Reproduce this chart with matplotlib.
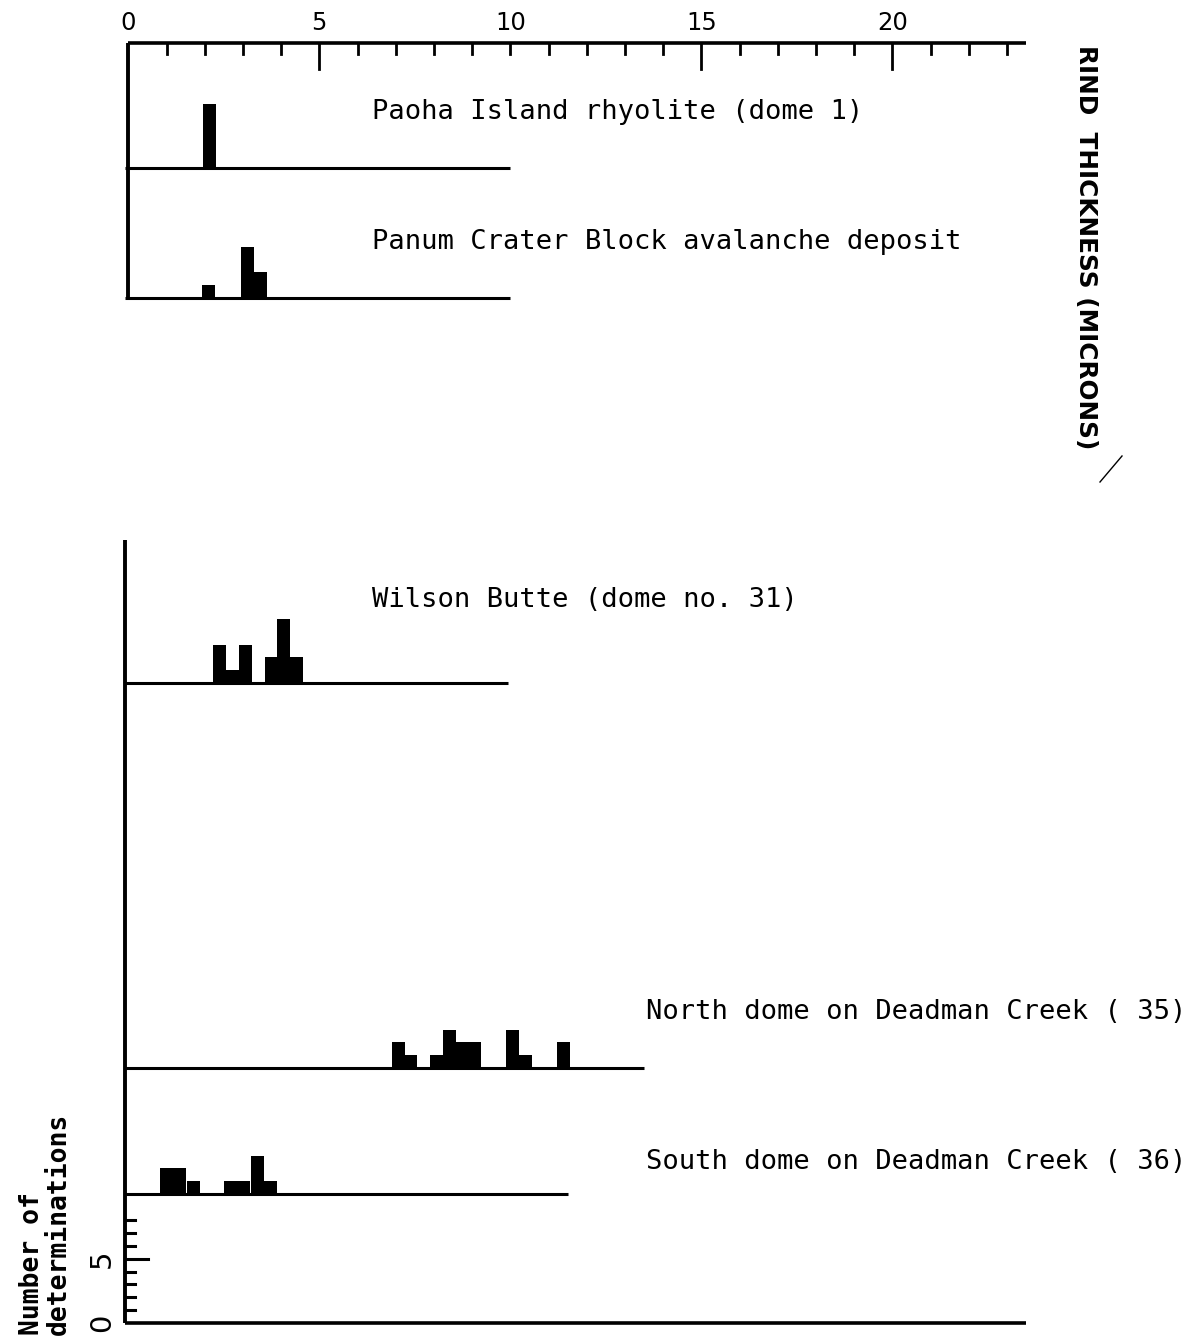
import matplotlib
matplotlib.use("Agg")
import matplotlib.pyplot as plt

# rind thickness (microns): left edge of each bin, and number of determinations
paoha_edges = [1.95]
paoha_counts = [5]
panum_edges = [1.93, 2.95, 3.29]
panum_counts = [1, 4, 2]
wilson_edges = [2.23, 2.57, 2.90, 3.57, 3.90, 4.23]
wilson_counts = [3, 1, 3, 2, 5, 2]
north_edges = [6.90, 7.23, 7.90, 8.23, 8.57, 8.90, 9.90, 10.23, 11.23]
north_counts = [2, 1, 1, 3, 2, 2, 3, 1, 2]
south_edges = [0.83, 1.18, 1.53, 2.50, 2.85, 3.20, 3.55]
south_counts = [2, 2, 1, 1, 1, 3, 1]
bin_width = 0.34

sample_names = [
    "Paoha Island rhyolite (dome 1)",
    "Panum Crater Block avalanche deposit",
    "Wilson Butte (dome no. 31)",
    "North dome on Deadman Creek ( 35)",
    "South dome on Deadman Creek ( 36)",
]
x_tick_labels = ["0", "5", "10", "15", "20"]
x_tick_values = [0, 5, 10, 15, 20]
count_tick_labels = ["0", "5"]

# layout (pixels of the 1197x1337 page)
W, H = 1197, 1337
X0 = 128.3      # pixel column of 0 microns
PX = 38.2       # pixels per micron
PY = 12.8       # pixels per determination


def yb(py):
    return (H - py) / PY


def xd(px):
    return (px - X0) / PX


fig = plt.figure(figsize=(W / 100, H / 100), dpi=100)
ax = fig.add_axes([0, 0, 1, 1])
ax.set_xlim(xd(0), xd(W))
ax.set_ylim(0, H / PY)
ax.axis("off")

mono = "DejaVu Sans Mono"
lw = 2.2

# panels: data, baseline row, baseline length (microns), label position
panels = [
    (paoha_edges, paoha_counts, 168, 10.0, 372, 112),
    (panum_edges, panum_counts, 298, 10.0, 372, 242),
    (wilson_edges, wilson_counts, 683, 9.95, 372, 600),
    (north_edges, north_counts, 1068, 13.5, 646, 1012),
    (south_edges, south_counts, 1194, 11.5, 646, 1162),
]
for (edges, counts, base, end, lx, ly), name in zip(panels, sample_names):
    ax.bar(edges, counts, width=bin_width, bottom=yb(base), align="edge",
           color="black", linewidth=0)
    ax.plot([xd(125), end], [yb(base)] * 2, color="black", lw=lw,
            solid_capstyle="butt")
    ax.text(xd(lx), yb(ly), name, family=mono, fontsize=19.5,
            ha="left", va="center")

# top thickness scale
ytop = yb(42.7)
ax.plot([0, 23.5], [ytop, ytop], color="black", lw=2.6, solid_capstyle="butt")
for i in range(1, 24):
    length = 26 if i in (5, 15, 20) else 11
    ax.plot([i, i], [ytop, ytop - length / PY], color="black", lw=2.0)
ax.plot([0, 0], [yb(300), ytop], color="black", lw=2.8, solid_capstyle="butt")
for v, t in zip(x_tick_values, x_tick_labels):
    ax.text(v, yb(23), t, fontsize=17.5, ha="center", va="center")

ax.text(xd(1086), yb(45), "RIND  THICKNESS (MICRONS)", fontsize=17.8,
        fontweight="bold", rotation=-90, rotation_mode="anchor",
        ha="left", va="center")
ax.plot([xd(1100), xd(1122)], [yb(482), yb(456)], color="black", lw=1.0)

# count scale at the bottom
ybot = yb(1322.7)
xl = xd(125)
ax.plot([xl, xl], [ybot, yb(540)], color="black", lw=2.8, solid_capstyle="butt")
ax.plot([xl, 23.5], [ybot, ybot], color="black", lw=2.6, solid_capstyle="butt")
for c in range(1, 9):
    length = 23 if c == 5 else 10
    ax.plot([xl, xl + length / PX], [ybot + c, ybot + c], color="black", lw=2.2)
for c, t in zip([0, 5], count_tick_labels):
    ax.text(xd(102), ybot + c, t, fontsize=21, rotation=90,
            ha="center", va="center")

ax.text(xd(32), yb(1335), "Number of", family=mono, fontsize=19,
        fontweight="bold", rotation=90, rotation_mode="anchor",
        ha="left", va="center")
ax.text(xd(59), yb(1335), "determinations", family=mono, fontsize=19,
        fontweight="bold", rotation=90, rotation_mode="anchor",
        ha="left", va="center")

fig.savefig("out.png", dpi=100)
